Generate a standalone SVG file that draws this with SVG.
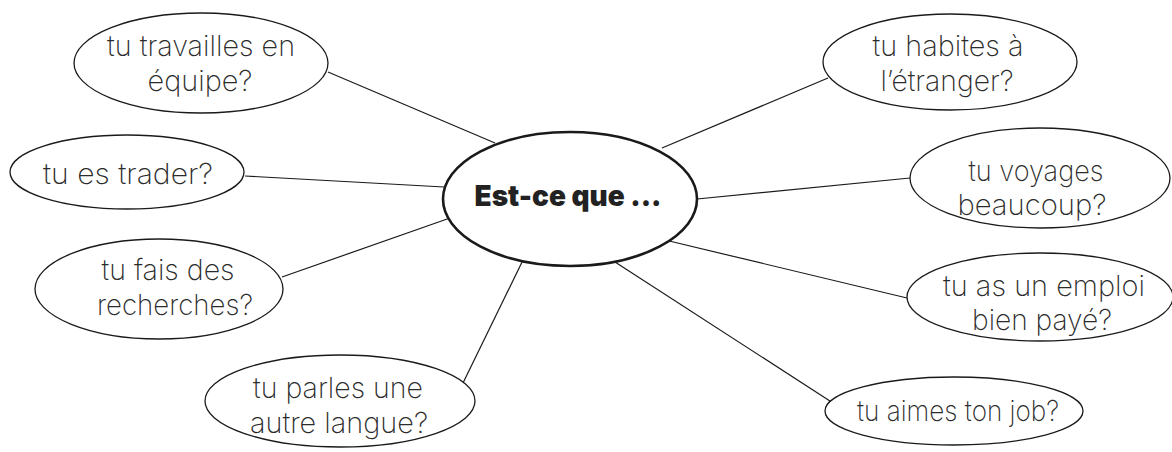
<svg xmlns="http://www.w3.org/2000/svg" width="1172" height="452" viewBox="0 0 1172 452">
<style>
.n{fill:#fff;stroke:#1a1a1a;stroke-width:1.3}
.c{fill:#fff;stroke:#1a1a1a;stroke-width:2.6}
.t{font-family:"Inter","Open Sans",sans-serif;font-weight:200;font-size:29px;fill:#2b2b2b;text-anchor:middle}
.b{font-family:"Inter","Open Sans",sans-serif;font-weight:900;font-size:29px;fill:#222;text-anchor:middle}
.l{stroke:#1a1a1a;stroke-width:1.2;fill:none}
</style>
<rect width="1172" height="452" fill="#fff"/>
<g id="connectors">
<line class="l" x1="328" y1="72" x2="495" y2="143"/>
<line class="l" x1="245" y1="176" x2="444" y2="187"/>
<line class="l" x1="282" y1="277" x2="450" y2="218"/>
<line class="l" x1="463" y1="383" x2="524" y2="258"/>
<line class="l" x1="662" y1="148" x2="828" y2="78"/>
<line class="l" x1="697" y1="199" x2="910" y2="178"/>
<line class="l" x1="665" y1="240" x2="907" y2="298"/>
<line class="l" x1="615" y1="262" x2="833" y2="403"/>
</g>
<g id="center">
<ellipse class="c" cx="570" cy="199" rx="127" ry="67"/>
<text class="b" x="568" y="206" textLength="187" lengthAdjust="spacingAndGlyphs">Est-ce que ...</text>
</g>
<g id="n1">
<ellipse class="n" cx="201" cy="63" rx="127" ry="50"/>
<text class="t" x="201" y="56" textLength="188" lengthAdjust="spacingAndGlyphs">tu travailles en</text>
<text class="t" x="200" y="91" textLength="105" lengthAdjust="spacingAndGlyphs">équipe?</text>
</g>
<g id="n2">
<ellipse class="n" cx="127" cy="172" rx="117" ry="37"/>
<text class="t" x="128" y="184" textLength="170" lengthAdjust="spacingAndGlyphs">tu es trader?</text>
</g>
<g id="n3">
<ellipse class="n" cx="159" cy="289" rx="124" ry="50"/>
<text class="t" x="168" y="280" textLength="133" lengthAdjust="spacingAndGlyphs">tu fais des</text>
<text class="t" x="175" y="315" textLength="156" lengthAdjust="spacingAndGlyphs">recherches?</text>
</g>
<g id="n4">
<ellipse class="n" cx="340" cy="401" rx="135" ry="46"/>
<text class="t" x="338" y="398" textLength="170" lengthAdjust="spacingAndGlyphs">tu parles une</text>
<text class="t" x="339" y="433" textLength="178" lengthAdjust="spacingAndGlyphs">autre langue?</text>
</g>
<g id="n5">
<ellipse class="n" cx="950" cy="62" rx="127" ry="48"/>
<text class="t" x="948" y="56" textLength="151" lengthAdjust="spacingAndGlyphs">tu habites à</text>
<text class="t" x="947" y="91" textLength="133" lengthAdjust="spacingAndGlyphs">l’étranger?</text>
</g>
<g id="n6">
<ellipse class="n" cx="1040" cy="178" rx="130" ry="50"/>
<text class="t" x="1036" y="181" textLength="135" lengthAdjust="spacingAndGlyphs">tu voyages</text>
<text class="t" x="1032" y="215" textLength="149" lengthAdjust="spacingAndGlyphs">beaucoup?</text>
</g>
<g id="n7">
<ellipse class="n" cx="1040" cy="297" rx="133" ry="44"/>
<text class="t" x="1044" y="296" textLength="202" lengthAdjust="spacingAndGlyphs">tu as un emploi</text>
<text class="t" x="1042" y="330" textLength="140" lengthAdjust="spacingAndGlyphs">bien payé?</text>
</g>
<g id="n8">
<ellipse class="n" cx="954" cy="411" rx="129" ry="34"/>
<text class="t" x="958" y="421" textLength="202" lengthAdjust="spacingAndGlyphs">tu aimes ton job?</text>
</g>
</svg>
